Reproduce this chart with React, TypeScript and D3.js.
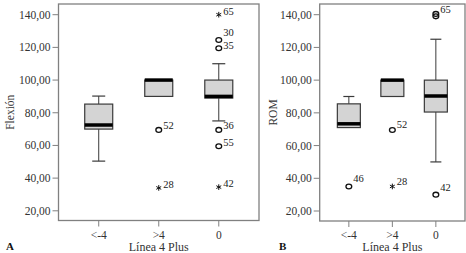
import React from 'react';
import * as d3 from 'd3';

// ---------- data ----------
const categories = ['<-4', '>4', '0'];
const yTickValues = [20, 40, 60, 80, 100, 120, 140];
const yDomain = [20, 140];

// Panel A – Flexión
const flexLow = [50.4, 90, 75];
const flexQ1 = [70, 90, 89];
const flexMedian = [72.5, 100, 90];
const flexQ3 = [85.3, 100, 100];
const flexHigh = [90.2, 100, 110];
const flexOutlierCats = ['>4', '>4', '0', '0', '0', '0', '0', '0'];
const flexOutlierValues = [69.5, 34, 140, 124.5, 119.5, 69.5, 59.5, 34.5];
const flexOutlierKinds = ['circle', 'star', 'star', 'circle', 'circle', 'circle', 'circle', 'star'];
const flexOutlierLabels = ['52', '28', '65', '30', '35', '36', '55', '42'];

// Panel B – ROM
const romLow = [71, 90, 50];
const romQ1 = [71, 90, 80.5];
const romMedian = [73.3, 100, 90.3];
const romQ3 = [85.5, 100, 100];
const romHigh = [90, 100, 125];
const romOutlierCats = ['<-4', '>4', '>4', '0', '0', '0'];
const romOutlierValues = [35, 69.5, 35, 139, 140.5, 30];
const romOutlierKinds = ['circle', 'circle', 'star', 'circle', 'circle', 'circle'];
const romOutlierLabels = ['46', '52', '28', '', '65', '42'];

const xTitle = 'Línea 4 Plus';

// small label nudges (vertical, px) keyed by panel+label
const labelNudge: Record<string, number> = {
  'A30': -3, 'A35': 2, 'A65': 1, 'A55': 1, 'A42': 1, 'A28': 1,
  'B46': -3, 'B42': -3, 'B52': -1,
};

const FONT = '"Liberation Serif", "Times New Roman", Times, serif';

type PanelProps = {
  id: string;
  left: number;
  right: number;
  top: number;
  bottom: number;
  yTop: number;
  yBottom: number;
  boxWidth: number;
  capWidth: number;
  yTitle: string;
  yTitleX: number;
  letter: string;
  letterX: number;
  low: number[];
  q1: number[];
  median: number[];
  q3: number[];
  high: number[];
  oCats: string[];
  oValues: number[];
  oKinds: string[];
  oLabels: string[];
};

function Panel(p: PanelProps) {
  const x = d3.scalePoint<string>().domain(categories).range([p.left, p.right]).padding(0.67);
  const y = d3.scaleLinear().domain(yDomain).range([p.yBottom, p.yTop]);
  const starPath = d3.symbol().type(d3.symbolAsterisk).size(22)() as string;
  const stroke = '#3a3a3a';
  return (
    <g>
      {/* boxes */}
      {categories.map((c, i) => {
        const cx = x(c) as number;
        const hw = p.boxWidth / 2;
        const cw = p.capWidth / 2;
        return (
          <g key={c}>
            {p.high[i] > p.q3[i] && (
              <>
                <line x1={cx} x2={cx} y1={y(p.high[i])} y2={y(p.q3[i])} stroke={stroke} strokeWidth={1} />
                <line x1={cx - cw} x2={cx + cw} y1={y(p.high[i])} y2={y(p.high[i])} stroke={stroke} strokeWidth={1.2} />
              </>
            )}
            {p.low[i] < p.q1[i] && (
              <>
                <line x1={cx} x2={cx} y1={y(p.q1[i])} y2={y(p.low[i])} stroke={stroke} strokeWidth={1} />
                <line x1={cx - cw} x2={cx + cw} y1={y(p.low[i])} y2={y(p.low[i])} stroke={stroke} strokeWidth={1.2} />
              </>
            )}
            <rect
              x={cx - hw}
              y={y(p.q3[i])}
              width={p.boxWidth}
              height={y(p.q1[i]) - y(p.q3[i])}
              fill="#d4d4d4"
              stroke={stroke}
              strokeWidth={1.2}
            />
            <line
              x1={cx - hw}
              x2={cx + hw}
              y1={y(p.median[i])}
              y2={y(p.median[i])}
              stroke="#000"
              strokeWidth={3.5}
            />
          </g>
        );
      })}
      {/* outliers */}
      {p.oValues.map((v, i) => {
        const cx = x(p.oCats[i]) as number;
        const cy = y(v);
        const lbl = p.oLabels[i];
        const nudge = labelNudge[p.id + lbl] || 0;
        return (
          <g key={i}>
            {p.oKinds[i] === 'circle' ? (
              <ellipse cx={cx} cy={cy} rx={2.9} ry={2.4} fill="none" stroke="#111" strokeWidth={1.3} />
            ) : (
              <path d={starPath} transform={`translate(${cx},${cy})`} fill="none" stroke="#111" strokeWidth={1} />
            )}
            {lbl && (
              <text x={cx + 4.5} y={cy - 1 + nudge} fontSize={10.5} fontFamily={FONT} fill="#222">
                {lbl}
              </text>
            )}
          </g>
        );
      })}
      {/* frame */}
      <rect
        x={p.left}
        y={p.top}
        width={p.right - p.left}
        height={p.bottom - p.top}
        fill="none"
        stroke="#808080"
        strokeWidth={1.3}
      />
      {/* y axis */}
      {yTickValues.map((t) => (
        <g key={t}>
          <line x1={p.left - 6} x2={p.left} y1={y(t)} y2={y(t)} stroke="#808080" strokeWidth={1} />
          <text
            x={p.left - 8}
            y={y(t)}
            dy="0.35em"
            textAnchor="end"
            fontSize={11.5}
            fontFamily={FONT}
            fill="#333"
          >
            {d3.format('.2f')(t).replace('.', ',')}
          </text>
        </g>
      ))}
      {/* x axis */}
      {categories.map((c) => (
        <g key={c}>
          <line x1={x(c)} x2={x(c)} y1={p.bottom} y2={p.bottom + 6} stroke="#808080" strokeWidth={1} />
          <text x={x(c)} y={239} textAnchor="middle" fontSize={11.5} fontFamily={FONT} fill="#333">
            {c}
          </text>
        </g>
      ))}
      <text
        x={((x(categories[0]) as number) + (x(categories[2]) as number)) / 2}
        y={251}
        textAnchor="middle"
        fontSize={12}
        fontFamily={FONT}
        fill="#333"
      >
        {xTitle}
      </text>
      <text
        transform={`translate(${p.yTitleX},${(p.top + p.bottom) / 2}) rotate(-90)`}
        textAnchor="middle"
        fontSize={11.5}
        fontFamily={FONT}
        fill="#333"
      >
        {p.yTitle}
      </text>
      <text x={p.letterX} y={250} fontSize={11} fontWeight="bold" fontFamily={FONT} fill="#111">
        {p.letter}
      </text>
    </g>
  );
}

export default function App() {
  return (
    <div style={{ position: 'absolute', left: 0, top: 0 }}>
      <svg width={466} height={253} style={{ display: 'block', background: '#fff' }}>
        <Panel
          id="A"
          left={58.5}
          right={259}
          top={4}
          bottom={220.5}
          yTop={14.7}
          yBottom={210.8}
          boxWidth={28}
          capWidth={13}
          yTitle="Flexión"
          yTitleX={14}
          letter="A"
          letterX={6}
          low={flexLow}
          q1={flexQ1}
          median={flexMedian}
          q3={flexQ3}
          high={flexHigh}
          oCats={flexOutlierCats}
          oValues={flexOutlierValues}
          oKinds={flexOutlierKinds}
          oLabels={flexOutlierLabels}
        />
        <Panel
          id="B"
          left={319.7}
          right={465}
          top={4}
          bottom={221}
          yTop={14.7}
          yBottom={211}
          boxWidth={23}
          capWidth={11}
          yTitle="ROM"
          yTitleX={277}
          letter="B"
          letterX={279}
          low={romLow}
          q1={romQ1}
          median={romMedian}
          q3={romQ3}
          high={romHigh}
          oCats={romOutlierCats}
          oValues={romOutlierValues}
          oKinds={romOutlierKinds}
          oLabels={romOutlierLabels}
        />
      </svg>
    </div>
  );
}
